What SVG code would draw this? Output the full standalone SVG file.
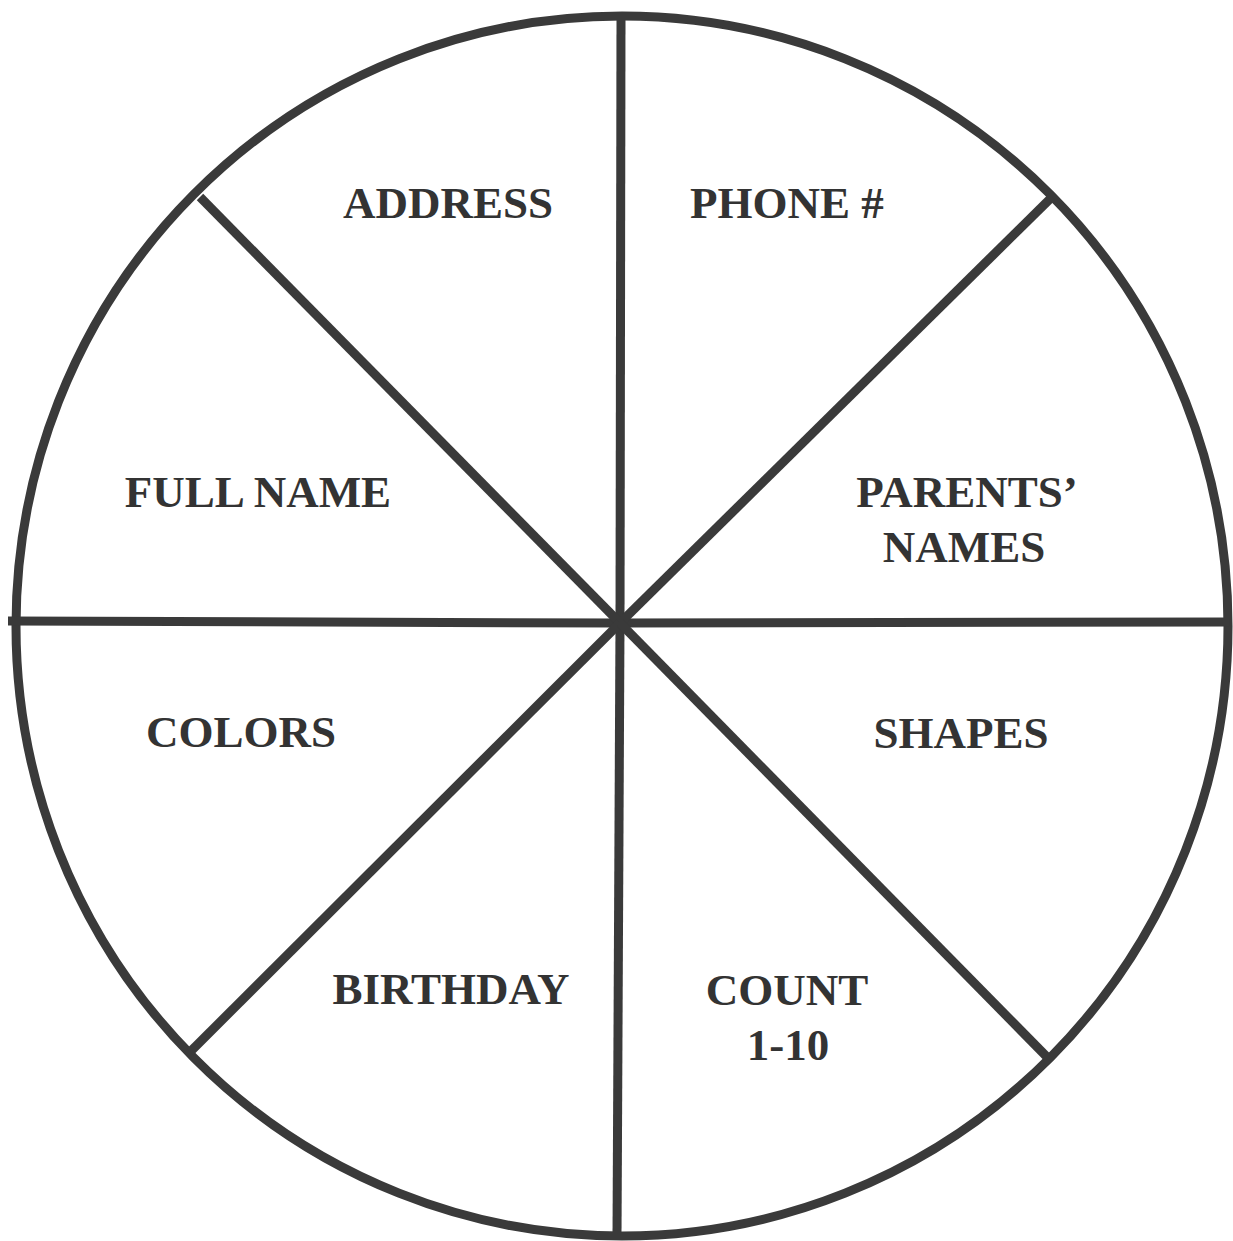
<svg xmlns="http://www.w3.org/2000/svg" width="1233" height="1241" viewBox="0 0 1233 1241">
<style>
.rim{fill:none;stroke:#3a3a3a;stroke-width:9}
.spoke{stroke:#3a3a3a;stroke-width:9;stroke-linecap:butt}
.lbl{font-family:"Liberation Serif","Times New Roman",serif;font-weight:bold;font-size:45px;fill:#333;text-anchor:middle}
</style>
<rect width="1233" height="1241" fill="#fff"/>
<g id="wheel">
<ellipse class="rim" cx="622" cy="626" rx="606" ry="610"/>
</g>
<g id="connectors">
<line class="spoke" x1="621" y1="16" x2="620" y2="623"/>
<line class="spoke" x1="620" y1="623" x2="617" y2="1236"/>
<line class="spoke" x1="8" y1="621" x2="620" y2="623"/>
<line class="spoke" x1="620" y1="623" x2="1230" y2="622"/>
<line class="spoke" x1="200" y1="197" x2="620" y2="623"/>
<line class="spoke" x1="1052" y1="197" x2="620" y2="623"/>
<line class="spoke" x1="190" y1="1052" x2="620" y2="623"/>
<line class="spoke" x1="1048" y1="1058" x2="620" y2="623"/>
</g>
<g id="address"><text class="lbl" x="448" y="218">ADDRESS</text></g>
<g id="phone"><text class="lbl" x="787" y="218">PHONE #</text></g>
<g id="fullname"><text class="lbl" x="258" y="507">FULL NAME</text></g>
<g id="parents"><text class="lbl" x="967" y="507">PARENTS’</text><text class="lbl" x="964" y="562">NAMES</text></g>
<g id="colors"><text class="lbl" x="241" y="747">COLORS</text></g>
<g id="shapes"><text class="lbl" x="961" y="748">SHAPES</text></g>
<g id="birthday"><text class="lbl" x="451" y="1004">BIRTHDAY</text></g>
<g id="count"><text class="lbl" x="787" y="1005">COUNT</text><text class="lbl" x="788" y="1060">1-10</text></g>
</svg>
